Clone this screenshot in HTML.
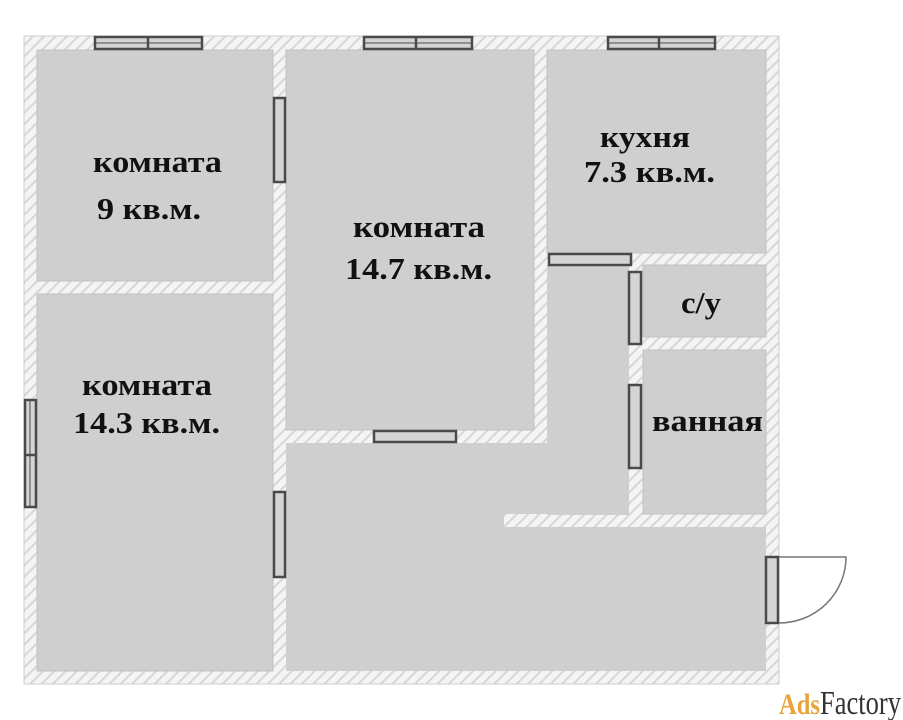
<!DOCTYPE html>
<html><head><meta charset="utf-8"><style>
html,body{margin:0;padding:0;background:#fff;width:903px;height:720px;overflow:hidden}
svg{display:block}
text{font-family:"Liberation Serif",serif;font-weight:bold;font-size:31px;fill:#111}
</style></head><body>
<svg width="903" height="720" viewBox="0 0 903 720">
<defs>
<pattern id="h" width="8" height="8" patternUnits="userSpaceOnUse" patternTransform="rotate(45)">
<rect width="8" height="8" fill="#f4f4f4"/><rect width="2" height="8" fill="#d6d6d6"/>
</pattern>
</defs>
<rect x="24" y="36" width="755" height="648" fill="url(#h)" stroke="#ccc" stroke-width="1"/>
<g fill="#cfcfcf" stroke="#c2c2c2" stroke-width="1">
<rect x="37" y="50" width="236" height="231"/>
<rect x="37" y="294" width="236" height="377"/>
<rect x="286" y="50" width="248" height="380"/>
<rect x="547" y="50" width="219" height="203"/>
<rect x="643" y="265" width="123" height="72"/>
<rect x="643" y="350" width="123" height="164"/>
</g>
<g fill="#cfcfcf">
<rect x="286" y="527" width="480" height="144"/>
<rect x="286" y="443" width="343" height="71"/>
<rect x="286" y="443" width="218" height="90"/>
<rect x="547" y="265" width="82" height="250"/>
</g>
<g fill="#d4d4d4" stroke="#4a4a4a" stroke-width="2.5">
<rect x="95" y="37" width="107" height="12"/><line x1="148" y1="37" x2="148" y2="49"/><line x1="95" y1="43" x2="202" y2="43" stroke-width="1"/>
<rect x="364" y="37" width="108" height="12"/><line x1="416" y1="37" x2="416" y2="49"/><line x1="364" y1="43" x2="472" y2="43" stroke-width="1"/>
<rect x="608" y="37" width="107" height="12"/><line x1="659" y1="37" x2="659" y2="49"/><line x1="608" y1="43" x2="715" y2="43" stroke-width="1"/>
<rect x="25" y="400" width="11" height="107"/><line x1="25" y1="455" x2="36" y2="455"/><line x1="30" y1="400" x2="30" y2="507" stroke-width="1"/>
<rect x="274" y="98" width="11" height="84"/>
<rect x="274" y="492" width="11" height="85"/>
<rect x="374" y="431" width="82" height="11"/>
<rect x="549" y="254" width="82" height="11"/>
<rect x="629" y="272" width="12" height="72"/>
<rect x="629" y="385" width="12" height="83"/>
<rect x="766" y="557" width="12" height="66"/>
</g>
<path d="M779 557 L846 557 A67 66 0 0 1 779 623" fill="none" stroke="#777" stroke-width="1.5"/>
<text x="93" y="172" textLength="129" lengthAdjust="spacingAndGlyphs">комната</text>
<text x="97" y="219" textLength="104" lengthAdjust="spacingAndGlyphs">9 кв.м.</text>
<text x="353" y="237" textLength="132" lengthAdjust="spacingAndGlyphs">комната</text>
<text x="345" y="279" textLength="147" lengthAdjust="spacingAndGlyphs">14.7 кв.м.</text>
<text x="600" y="147" textLength="90" lengthAdjust="spacingAndGlyphs">кухня</text>
<text x="584" y="182" textLength="131" lengthAdjust="spacingAndGlyphs">7.3 кв.м.</text>
<text x="681" y="313" textLength="40" lengthAdjust="spacingAndGlyphs">с/у</text>
<text x="652" y="431" textLength="111" lengthAdjust="spacingAndGlyphs">ванная</text>
<text x="82" y="395" textLength="130" lengthAdjust="spacingAndGlyphs">комната</text>
<text x="73" y="433" textLength="147" lengthAdjust="spacingAndGlyphs">14.3 кв.м.</text>
<text x="779" y="714" textLength="41" lengthAdjust="spacingAndGlyphs" style="font-size:30px;fill:#e8a33a">Ads</text>
<text x="820" y="714" textLength="81" lengthAdjust="spacingAndGlyphs" style="font-size:34px;font-weight:normal;fill:#333">Factory</text>
</svg>
</body></html>
